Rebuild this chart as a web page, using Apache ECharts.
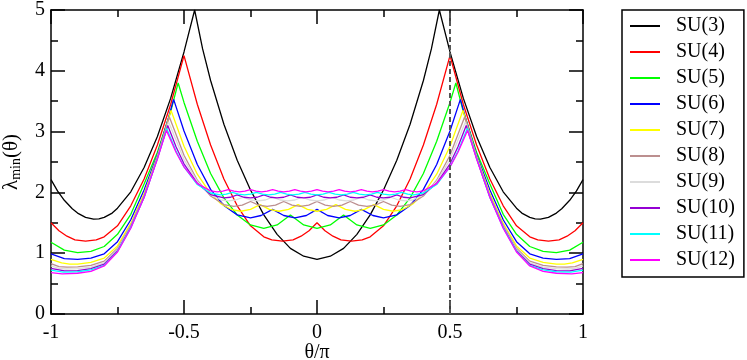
<!DOCTYPE html>
<html><head><meta charset="utf-8">
<script src="https://cdn.jsdelivr.net/npm/echarts@6/dist/echarts.min.js"></script>
<style>html,body{margin:0;padding:0;background:#fff}#c{width:747px;height:360px}</style>
</head><body><div id="c"></div>
<script>
const seriesNames = ['SU(3)','SU(4)','SU(5)','SU(6)','SU(7)','SU(8)','SU(9)','SU(10)','SU(11)','SU(12)'];
const seriesColors = ['#000000','#ff0000','#00ff00','#0000ff','#ffff00','#bc8f8f','#dcdcdc','#9400d3','#00ffff','#ff00ff'];
const xTicks = [-1,-0.5,0,0.5,1];
const yTicks = [0,1,2,3,4,5];
const refLine = [[0.5,0],[0.5,5]];

const su3 = [[-1,2.21],[-0.975,2.02],[-0.95,1.87],[-0.92,1.73],[-0.9,1.66],[-0.87,1.59],[-0.84,1.56],[-0.82,1.565],[-0.8,1.59],[-0.77,1.66],[-0.75,1.74],[-0.7,2.01],[-0.65,2.41],[-0.6,2.92],[-0.55,3.55],[-0.5,4.31],[-0.46,5.0],[-0.43,4.36],[-0.4,3.84],[-0.35,3.12],[-0.3,2.53],[-0.25,2.04],[-0.2,1.63],[-0.15,1.31],[-0.1,1.08],[-0.05,0.95],[0,0.90],[0.05,0.95],[0.1,1.08],[0.15,1.31],[0.2,1.63],[0.25,2.04],[0.3,2.53],[0.35,3.12],[0.4,3.84],[0.43,4.36],[0.46,5.0],[0.5,4.31],[0.55,3.55],[0.6,2.92],[0.65,2.41],[0.7,2.01],[0.75,1.74],[0.77,1.66],[0.8,1.59],[0.82,1.565],[0.84,1.56],[0.87,1.59],[0.9,1.66],[0.92,1.73],[0.95,1.87],[0.975,2.02],[1,2.21]];
const su4 = [[-1,1.50],[-0.97,1.37],[-0.94,1.28],[-0.91,1.22],[-0.87,1.20],[-0.83,1.22],[-0.8,1.27],[-0.75,1.45],[-0.7,1.78],[-0.65,2.22],[-0.6,2.78],[-0.55,3.45],[-0.5,4.25],[-0.45,3.45],[-0.4,2.78],[-0.35,2.22],[-0.3,1.78],[-0.25,1.45],[-0.2,1.27],[-0.17,1.22],[-0.13,1.20],[-0.09,1.22],[-0.06,1.28],[-0.03,1.37],[0,1.50],[0.03,1.37],[0.06,1.28],[0.09,1.22],[0.13,1.20],[0.17,1.22],[0.2,1.27],[0.25,1.45],[0.3,1.78],[0.35,2.22],[0.4,2.78],[0.45,3.45],[0.5,4.25],[0.55,3.45],[0.6,2.78],[0.65,2.22],[0.7,1.78],[0.75,1.45],[0.8,1.27],[0.83,1.22],[0.87,1.20],[0.91,1.22],[0.94,1.28],[0.97,1.37],[1,1.50]];
const su5 = [[-1,1.18],[-0.95,1.05],[-0.9,1.01],[-0.85,1.03],[-0.8,1.11],[-0.75,1.31],[-0.7,1.64],[-0.65,2.14],[-0.6,2.66],[-0.55,3.33],[-0.522,3.80],[-0.5,3.48],[-0.45,2.84],[-0.4,2.31],[-0.35,1.91],[-0.3,1.63],[-0.25,1.465],[-0.2,1.41],[-0.15,1.465],[-0.1,1.63],[-0.05,1.465],[0,1.41],[0.05,1.465],[0.1,1.63],[0.15,1.465],[0.2,1.41],[0.25,1.465],[0.3,1.63],[0.35,1.91],[0.4,2.31],[0.45,2.84],[0.5,3.48],[0.522,3.80],[0.55,3.33],[0.6,2.66],[0.65,2.14],[0.7,1.64],[0.75,1.31],[0.8,1.11],[0.85,1.03],[0.9,1.01],[0.95,1.05],[1,1.18]];
const su6 = [[-1,0.99],[-0.95,0.91],[-0.9,0.90],[-0.85,0.92],[-0.8,0.99],[-0.75,1.19],[-0.7,1.55],[-0.65,2.04],[-0.6,2.62],[-0.56,3.20],[-0.539,3.53],[-0.5,3.01],[-0.45,2.46],[-0.4,2.05],[-0.35,1.785],[-0.3,1.63],[-0.25,1.58],[-0.21,1.62],[-0.167,1.72],[-0.125,1.62],[-0.083,1.58],[-0.04,1.62],[0,1.72],[0.04,1.62],[0.083,1.58],[0.125,1.62],[0.167,1.72],[0.21,1.62],[0.25,1.58],[0.3,1.63],[0.35,1.785],[0.4,2.05],[0.45,2.46],[0.5,3.01],[0.539,3.53],[0.56,3.20],[0.6,2.62],[0.65,2.04],[0.7,1.55],[0.75,1.19],[0.8,0.99],[0.85,0.92],[0.9,0.90],[0.95,0.91],[1,0.99]];
const su7 = [[-1,0.90],[-0.96,0.84],[-0.93,0.82],[-0.9,0.82],[-0.85,0.85],[-0.8,0.92],[-0.75,1.12],[-0.7,1.49],[-0.65,1.98],[-0.6,2.60],[-0.57,3.03],[-0.549,3.35],[-0.5,2.76],[-0.45,2.30],[-0.4,1.98],[-0.36,1.81],[-0.32,1.715],[-0.286,1.69],[-0.25,1.72],[-0.214,1.80],[-0.179,1.72],[-0.143,1.69],[-0.107,1.72],[-0.071,1.80],[-0.036,1.72],[0,1.69],[0.036,1.72],[0.071,1.80],[0.107,1.72],[0.143,1.69],[0.179,1.72],[0.214,1.80],[0.25,1.72],[0.286,1.69],[0.32,1.715],[0.36,1.81],[0.4,1.98],[0.45,2.30],[0.5,2.76],[0.549,3.35],[0.57,3.03],[0.6,2.60],[0.65,1.98],[0.7,1.49],[0.75,1.12],[0.8,0.92],[0.85,0.85],[0.9,0.82],[0.93,0.82],[0.96,0.84],[1,0.90]];
const su8 = [[-1,0.83],[-0.97,0.78],[-0.94,0.77],[-0.9,0.775],[-0.85,0.80],[-0.8,0.87],[-0.75,1.08],[-0.7,1.46],[-0.65,1.95],[-0.6,2.58],[-0.58,2.88],[-0.555,3.24],[-0.5,2.61],[-0.45,2.20],[-0.4,1.94],[-0.35,1.80],[-0.3125,1.77],[-0.281,1.79],[-0.25,1.85],[-0.219,1.79],[-0.1875,1.77],[-0.156,1.79],[-0.125,1.85],[-0.094,1.79],[-0.0625,1.77],[-0.031,1.79],[0,1.85],[0.031,1.79],[0.0625,1.77],[0.094,1.79],[0.125,1.85],[0.156,1.79],[0.1875,1.77],[0.219,1.79],[0.25,1.85],[0.281,1.79],[0.3125,1.77],[0.35,1.80],[0.4,1.94],[0.45,2.20],[0.5,2.61],[0.555,3.24],[0.58,2.88],[0.6,2.58],[0.65,1.95],[0.7,1.46],[0.75,1.08],[0.8,0.87],[0.85,0.80],[0.9,0.775],[0.94,0.77],[0.97,0.78],[1,0.83]];
const su9 = [[-1,0.79],[-0.97,0.75],[-0.944,0.74],[-0.9,0.745],[-0.85,0.77],[-0.8,0.84],[-0.75,1.06],[-0.7,1.44],[-0.65,1.93],[-0.6,2.57],[-0.58,2.85],[-0.558,3.16],[-0.5,2.54],[-0.45,2.18],[-0.4,1.96],[-0.36,1.875],[-0.333,1.86],[-0.306,1.875],[-0.278,1.92],[-0.25,1.875],[-0.222,1.86],[-0.194,1.875],[-0.167,1.92],[-0.139,1.875],[-0.111,1.86],[-0.083,1.875],[-0.056,1.92],[-0.028,1.875],[0,1.86],[0.028,1.875],[0.056,1.92],[0.083,1.875],[0.111,1.86],[0.139,1.875],[0.167,1.92],[0.194,1.875],[0.222,1.86],[0.25,1.875],[0.278,1.92],[0.306,1.875],[0.333,1.86],[0.36,1.875],[0.4,1.96],[0.45,2.18],[0.5,2.54],[0.558,3.16],[0.58,2.85],[0.6,2.57],[0.65,1.93],[0.7,1.44],[0.75,1.06],[0.8,0.84],[0.85,0.77],[0.9,0.745],[0.944,0.74],[0.97,0.75],[1,0.79]];
const su10 = [[-1,0.75],[-0.95,0.71],[-0.9,0.715],[-0.85,0.745],[-0.8,0.82],[-0.75,1.04],[-0.7,1.43],[-0.65,1.92],[-0.6,2.56],[-0.58,2.84],[-0.561,3.10],[-0.53,2.75],[-0.5,2.47],[-0.45,2.15],[-0.4,1.965],[-0.35,1.91],[-0.325,1.92],[-0.3,1.96],[-0.275,1.92],[-0.25,1.91],[-0.225,1.92],[-0.2,1.96],[-0.175,1.92],[-0.15,1.91],[-0.125,1.92],[-0.1,1.96],[-0.075,1.92],[-0.05,1.91],[-0.025,1.92],[0,1.96],[0.025,1.92],[0.05,1.91],[0.075,1.92],[0.1,1.96],[0.125,1.92],[0.15,1.91],[0.175,1.92],[0.2,1.96],[0.225,1.92],[0.25,1.91],[0.275,1.92],[0.3,1.96],[0.325,1.92],[0.35,1.91],[0.4,1.965],[0.45,2.15],[0.5,2.47],[0.53,2.75],[0.561,3.10],[0.58,2.84],[0.6,2.56],[0.65,1.92],[0.7,1.43],[0.75,1.04],[0.8,0.82],[0.85,0.745],[0.9,0.715],[0.95,0.71],[1,0.75]];
const su11 = [[-1,0.72],[-0.955,0.69],[-0.9,0.695],[-0.85,0.725],[-0.8,0.80],[-0.75,1.03],[-0.7,1.42],[-0.65,1.92],[-0.6,2.56],[-0.58,2.84],[-0.565,3.05],[-0.53,2.68],[-0.5,2.42],[-0.45,2.13],[-0.4,1.99],[-0.3636,1.96],[-0.341,1.97],[-0.3182,2.00],[-0.295,1.97],[-0.2727,1.96],[-0.25,1.97],[-0.2273,2.00],[-0.205,1.97],[-0.1818,1.96],[-0.159,1.97],[-0.1364,2.00],[-0.114,1.97],[-0.0909,1.96],[-0.068,1.97],[-0.0455,2.00],[-0.023,1.97],[0,1.96],[0.023,1.97],[0.0455,2.00],[0.068,1.97],[0.0909,1.96],[0.114,1.97],[0.1364,2.00],[0.159,1.97],[0.1818,1.96],[0.205,1.97],[0.2273,2.00],[0.25,1.97],[0.2727,1.96],[0.295,1.97],[0.3182,2.00],[0.341,1.97],[0.3636,1.96],[0.4,1.99],[0.45,2.13],[0.5,2.42],[0.53,2.68],[0.565,3.05],[0.58,2.84],[0.6,2.56],[0.65,1.92],[0.7,1.42],[0.75,1.03],[0.8,0.80],[0.85,0.725],[0.9,0.695],[0.955,0.69],[1,0.72]];
const su12 = [[-1,0.68],[-0.958,0.66],[-0.9,0.67],[-0.85,0.70],[-0.8,0.79],[-0.75,1.02],[-0.7,1.41],[-0.65,1.92],[-0.6,2.55],[-0.58,2.83],[-0.566,3.02],[-0.53,2.66],[-0.5,2.42],[-0.45,2.145],[-0.4,2.025],[-0.375,2.01],[-0.354,2.02],[-0.3333,2.045],[-0.3125,2.02],[-0.2917,2.01],[-0.271,2.02],[-0.25,2.045],[-0.229,2.02],[-0.2083,2.01],[-0.1875,2.02],[-0.1667,2.045],[-0.146,2.02],[-0.125,2.01],[-0.104,2.02],[-0.0833,2.045],[-0.0625,2.02],[-0.0417,2.01],[-0.021,2.02],[0,2.045],[0.021,2.02],[0.0417,2.01],[0.0625,2.02],[0.0833,2.045],[0.104,2.02],[0.125,2.01],[0.146,2.02],[0.1667,2.045],[0.1875,2.02],[0.2083,2.01],[0.229,2.02],[0.25,2.045],[0.271,2.02],[0.2917,2.01],[0.3125,2.02],[0.3333,2.045],[0.354,2.02],[0.375,2.01],[0.4,2.025],[0.45,2.145],[0.5,2.42],[0.53,2.66],[0.566,3.02],[0.58,2.83],[0.6,2.55],[0.65,1.92],[0.7,1.41],[0.75,1.02],[0.8,0.79],[0.85,0.70],[0.9,0.67],[0.958,0.66],[1,0.68]];

const allData = [su3, su4, su5, su6, su7, su8, su9, su10, su11, su12];
const FONT = '"Liberation Serif", "Times New Roman", serif';

const chart = echarts.init(document.getElementById('c'), null, {renderer: 'canvas'});
const axisCommon = {
  type: 'value',
  axisLine: {show: true, onZero: false, lineStyle: {color: '#000', width: 1.5}},
  axisTick: {show: true, inside: true, length: 14, lineStyle: {color: '#000', width: 1.5}},
  minorTick: {show: true, splitNumber: 2, length: 7, lineStyle: {color: '#000', width: 1.5}},
  splitLine: {show: false},
  minorSplitLine: {show: false}
};
const xBase = Object.assign({}, axisCommon, {min: xTicks[0], max: xTicks[xTicks.length - 1], interval: 0.5});
const yBase = Object.assign({}, axisCommon, {min: yTicks[0], max: yTicks[yTicks.length - 1], interval: 1});

const series = seriesNames.map((n, i) => ({
  name: n, type: 'line', data: allData[i], symbol: 'none', showSymbol: false,
  lineStyle: {color: seriesColors[i], width: 1.3}, itemStyle: {color: seriesColors[i]},
  xAxisIndex: 0, yAxisIndex: 0, z: 2 + i, animation: false
}));
series.push({
  name: 'ref', type: 'line', data: refLine, symbol: 'none', silent: true,
  lineStyle: {color: '#555', width: 2, type: [5, 3]}, z: 30, animation: false
});

chart.setOption({
  animation: false,
  backgroundColor: '#fff',
  grid: {left: 51, right: 164, top: 10, bottom: 46, containLabel: false, outerBoundsMode: 'none'},
  xAxis: [
    Object.assign({}, xBase, {
      position: 'bottom',
      axisLabel: {show: true, color: '#000', fontFamily: FONT, fontSize: 20, margin: 9},
      name: 'θ/π', nameLocation: 'middle', nameGap: 29, nameMoveOverlap: false,
      nameTextStyle: {color: '#000', fontFamily: FONT, fontSize: 20}
    }),
    Object.assign({}, xBase, {position: 'top', axisLabel: {show: false}})
  ],
  yAxis: [
    Object.assign({}, yBase, {
      position: 'left',
      axisLabel: {show: true, color: '#000', fontFamily: FONT, fontSize: 20, margin: 6},
      name: '{l|λ}{s|min}{l|(θ)}', nameLocation: 'middle', nameGap: 28, nameRotate: 90, nameMoveOverlap: false,
      nameTextStyle: {color: '#000', fontFamily: FONT, fontSize: 20,
        rich: {
          l: {fontFamily: FONT, fontSize: 21, color: '#000', lineHeight: 24, verticalAlign: 'middle'},
          s: {fontFamily: FONT, fontSize: 14, color: '#000', lineHeight: 14, verticalAlign: 'bottom'}
        }}
    }),
    Object.assign({}, yBase, {position: 'right', axisLabel: {show: false}})
  ],
  legend: {
    data: seriesNames, orient: 'vertical', left: 622, top: 10,
    padding: [6, 9, 7, 8], itemWidth: 30, itemHeight: 2, itemGap: 6,
    icon: 'rect',
    borderColor: '#000', borderWidth: 1.5, backgroundColor: '#fff',
    textStyle: {color: '#000', fontFamily: FONT, fontSize: 20, padding: [0, 0, 0, 11]}
  },
  series: series
});
</script>
</body></html>
